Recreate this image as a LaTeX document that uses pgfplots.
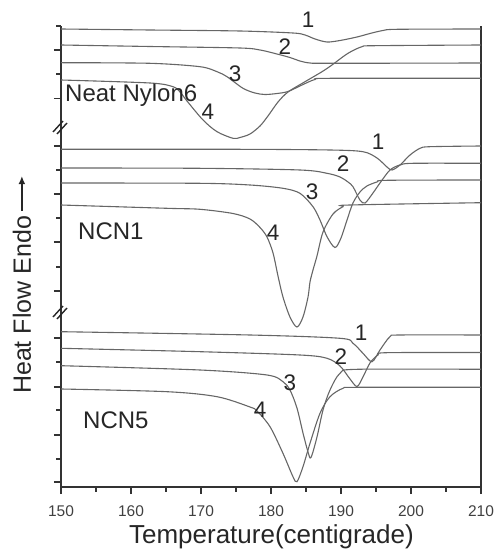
\documentclass[border=0pt]{standalone}
\usepackage{pgfplots}
\pgfplotsset{compat=1.18}
\usepackage{fontspec}
\setmainfont{Liberation Sans}
\usetikzlibrary{arrows.meta}
\pgfplotsset{crv/.style={line width=1.1pt, black!60, smooth, tension=0.5, mark=none}}
\begin{document}
\begin{tikzpicture}[x=1pt,y=1pt]
\useasboundingbox (0,0) rectangle (496,550);
\begin{axis}[
  at={(61pt,63pt)}, anchor=south west,
  scale only axis, width=420pt, height=461pt,
  xmin=150, xmax=210, ymin=0, ymax=461,
  axis x line*=bottom, axis y line*=left,
  axis line style={-, line width=1.6pt, black!80},
  tick align=outside,
  xtick={150,160,...,210}, minor xtick={155,165,...,205},
  ytick={437,388.3,341,293,245,196,149,100,52,5},
  minor ytick={461,413,317,269,220,125,77,28},
  yticklabels={},
  major tick length=7pt, minor tick length=4.5pt,
  tick style={line width=1.3pt, black!80},
  ticklabel style={font=\fontsize{15.5}{18}\selectfont, text=black!75},
  xticklabel style={yshift=-8pt},
  /pgf/number format/assume math mode=true,
  xlabel={Temperature(centigrade)},
  xlabel style={at={(axis description cs:0.501,-0.1085)}, anchor=center,
    font=\fontsize{26}{30}\selectfont, text=black!85},
  ylabel={Heat Flow Endo\,\tikz[baseline=0pt]\draw[line width=1.5pt,-{Latex[length=8pt,width=7pt]}] (0,0.36em) -- (1.4em,0.36em);},
  ylabel style={at={(axis description cs:-0.093,0.439)}, anchor=center,
    font=\fontsize{25}{30}\selectfont, text=black!85},
  clip=false,
]
% right spine, no top line
\draw[line width=1.6pt, black!80] (rel axis cs:1,0) -- (rel axis cs:1,1);
% axis breaks
\draw[line width=1.4pt, black!85] ([xshift=-8pt,yshift=-5pt]axis cs:150,360) -- ([xshift=2pt,yshift=6pt]axis cs:150,360);
\draw[line width=1.4pt, black!85] ([xshift=-4pt,yshift=-7pt]axis cs:150,360) -- ([xshift=6pt,yshift=4pt]axis cs:150,360);
\draw[line width=1.4pt, black!85] ([xshift=-8pt,yshift=-5pt]axis cs:150,175) -- ([xshift=2pt,yshift=6pt]axis cs:150,175);
\draw[line width=1.4pt, black!85] ([xshift=-4pt,yshift=-7pt]axis cs:150,175) -- ([xshift=6pt,yshift=4pt]axis cs:150,175);

% ---- Neat Nylon6 ----
\addplot[crv] coordinates {(150,458) (162.71,457) (175.57,456) (183.14,454) (184.86,452) (186.29,448) (188,445) (189.86,446.5) (192.29,450) (194.14,453.5) (196,456.5) (198,457.7) (210,458)};
\addplot[crv] coordinates {(150,442) (162.71,440.5) (175.57,439) (178.43,437) (180.57,433.5) (182.71,429.5) (184.14,426) (185.57,424) (188.43,423.7) (210,424)};
\addplot[crv] coordinates {(150,424.3) (162.71,423.7) (169.86,420.3) (172.29,415.3) (173.71,410.3) (176,398.7) (177.71,394) (179.14,392.5) (180.86,393.5) (182.43,395.5) (184.43,402) (186.29,407.5) (188.43,408.7) (210,408.7)};
\addplot[crv] coordinates {(150,407) (162.71,404) (166,400.3) (167,395) (168,386) (170.29,367) (172.29,355.3) (174.57,348.7) (175.57,349.5) (177,353) (178.43,361) (179.57,371) (181,385) (182.43,395) (184.86,405.3) (187.29,415.3) (188.71,422) (191,433.7) (193,440.3) (194.86,441.3) (210,442)};

% ---- NCN1 ----
\addplot[crv] coordinates {(150,337.7) (175.57,337.7) (188.43,337) (193.14,335.3) (195.14,329) (196.57,320) (197.29,317) (198.43,322) (199.86,332) (201.29,338.7) (202.71,340.3) (210,341)};
\addplot[crv] coordinates {(150,319) (169.86,318.7) (184.14,317) (188,313.7) (189.86,310) (191,305) (191.71,300.3) (192.71,287) (193.43,284) (194.57,294) (195.57,304) (197,317) (198.43,322) (200.29,323.7) (210,323.7)};
\addplot[crv] coordinates {(150,304) (169.86,303.7) (177,302) (181.71,298.7) (184.14,293.7) (186,280.3) (187,267) (188,250.3) (189.14,239.5) (190,249) (190.86,267) (191.71,284) (192.71,295) (193.71,301) (195.14,305) (196.57,306.7) (210,307)};
\addplot[crv] coordinates {(150,282) (165.14,278.7) (169.86,277.7) (174.57,273.5) (177,268) (178.43,259.5) (179.43,250) (180.29,234) (181,211) (181.71,190) (182.71,170) (183.71,160) (184.57,170) (185.29,190) (185.57,205) (186,217) (186.57,231) (187.43,255) (188.86,273) (190.29,280.3) (191.29,282) (210,284.3)};

% ---- NCN5 ----
\addplot[crv] coordinates {(150,155.3) (177,152) (189.86,148.7) (191.71,143.7) (193.14,133.7) (194.43,125.3) (195.57,137) (197,150.3) (198.43,152) (210,152)};
\addplot[crv] coordinates {(150,138.7) (169.86,135.3) (184.14,132) (188,128.7) (189.86,121) (191.29,108) (192.29,100.5) (193.14,110) (194.14,124) (195.29,132) (196.57,134.3) (210,134.5)};
\addplot[crv] coordinates {(150,121.3) (169.86,117) (179.43,112) (181.71,105.3) (182.71,97) (183.71,79) (184.57,54) (185.29,35) (185.71,29.5) (186.57,50) (187.43,77) (188.43,97) (189.86,113.7) (192.29,117.7) (210,117.7)};
\addplot[crv] coordinates {(150,98) (165.14,95.3) (172.29,90.3) (177,80) (178,76) (179.86,60.3) (181.71,33.7) (183.14,10.3) (183.71,5.3) (184.57,20.3) (185.57,43.7) (187,73.7) (188.43,90.3) (190.29,98.7) (192.29,99.7) (210,99.7)};

% labels
\begin{scope}[every node/.style={font=\fontsize{22.5}{27}\selectfont, text=black!85, inner sep=0pt}]
\node at (axis cs:185.29,467) {1};
\node at (axis cs:182,440) {2};
\node at (axis cs:174.86,413) {3};
\node at (axis cs:171,375) {4};
\node at (axis cs:195.29,345.3) {1};
\node at (axis cs:190.29,323.7) {2};
\node at (axis cs:185.86,295.3) {3};
\node at (axis cs:180.29,254) {4};
\node at (axis cs:192.86,154) {1};
\node at (axis cs:190,130) {2};
\node at (axis cs:182.71,104.5) {3};
\node at (axis cs:178.43,77.5) {4};
\end{scope}
\begin{scope}[every node/.style={font=\fontsize{24}{28}\selectfont, text=black!85, inner sep=0pt, anchor=west}]
\node at (axis cs:150.57,392) {Neat Nylon6};
\node at (axis cs:152.43,255.3) {NCN1};
\node at (axis cs:153.14,67) {NCN5};
\end{scope}
\end{axis}
\end{tikzpicture}
\end{document}
